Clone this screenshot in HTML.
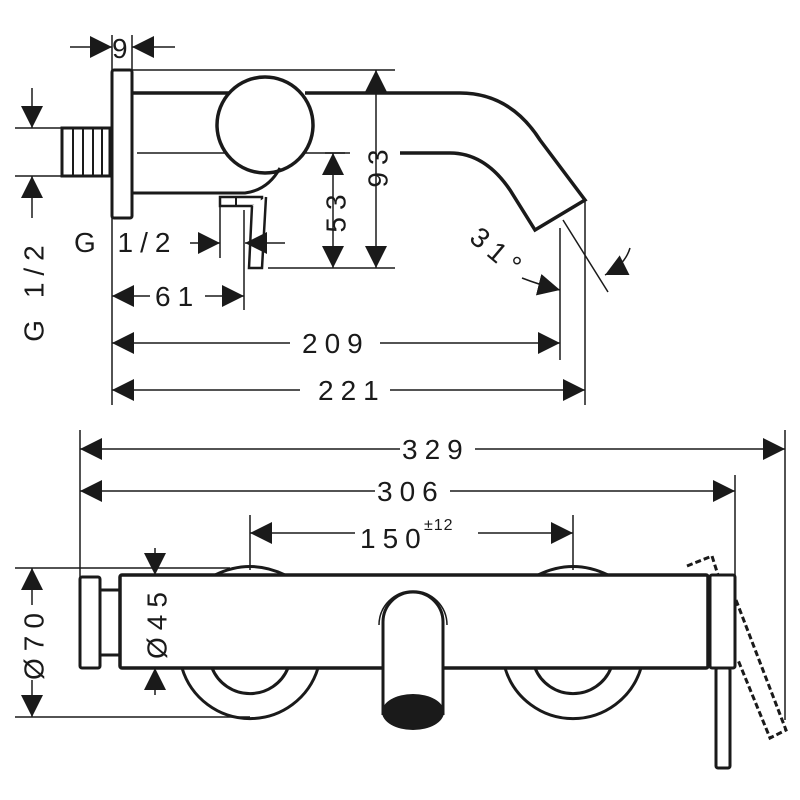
<!DOCTYPE html><html><head><style>body{margin:0;background:#fff}svg{display:block}text{font-family:"Liberation Sans",sans-serif;font-size:28px;letter-spacing:7px;fill:#1a1a1a}.r{dominant-baseline:central;text-anchor:middle}</style></head><body>
<svg width="800" height="800" viewBox="0 0 800 800" xmlns="http://www.w3.org/2000/svg">
<defs><marker id="a" viewBox="0 0 10 10" refX="10" refY="5" markerWidth="22" markerHeight="22" markerUnits="userSpaceOnUse" orient="auto"><path d="M0,0L10,5L0,10z" fill="#1a1a1a"/></marker></defs>
<g stroke="#1a1a1a" fill="none">
<!-- top view -->
<rect x="112" y="70" width="20" height="148" rx="2" stroke-width="3" fill="#fff"/>
<rect x="62" y="128" width="48" height="48" stroke-width="3"/>
<path d="M73 128V176M83 128V176M93 128V176M102 128V176" stroke-width="2"/>
<path d="M132 93H230M305 93H460Q510 93 540 140L585 200L535 230L510 190Q485 153 450 153H400" stroke-width="3.5"/>
<path d="M137 153H345" stroke-width="1.5"/>
<circle cx="265" cy="125" r="48" stroke-width="3.5" fill="#fff"/>
<path d="M132 193H245Q268 190 280 168" stroke-width="3"/>
<rect x="220" y="197" width="42" height="9" stroke-width="2.5"/>
<path d="M236 197V206" stroke-width="2"/>
<path d="M252 206L249 268H262L266 197" stroke-width="2.5" fill="#fff"/>
<path d="M132 70H395M268 268H395M325 153H350" stroke-width="1.5"/>
<path d="M376 200V70" stroke-width="1.5" marker-end="url(#a)"/><path d="M376 200V268" stroke-width="1.5" marker-end="url(#a)"/>
<path d="M333 235V153" stroke-width="1.5" marker-end="url(#a)"/><path d="M333 235V268" stroke-width="1.5" marker-end="url(#a)"/>
<path d="M32 88V128" stroke-width="1.5" marker-end="url(#a)"/><path d="M32 218V176" stroke-width="1.5" marker-end="url(#a)"/>
<path d="M15 128H62M15 176H62" stroke-width="1.5"/>
<path d="M190 243H220" stroke-width="1.5" marker-end="url(#a)"/><path d="M285 243H245" stroke-width="1.5" marker-end="url(#a)"/>
<path d="M220 205V258M244 210V310" stroke-width="1.5"/>
<path d="M70 47H112" stroke-width="1.5" marker-end="url(#a)"/><path d="M175 47H132" stroke-width="1.5" marker-end="url(#a)"/>
<path d="M112 35V70M132 35V70" stroke-width="1.5"/>
<path d="M150 296H112" stroke-width="1.5" marker-end="url(#a)"/><path d="M205 296H244" stroke-width="1.5" marker-end="url(#a)"/>
<path d="M290 343H112" stroke-width="1.5" marker-end="url(#a)"/><path d="M380 343H560" stroke-width="1.5" marker-end="url(#a)"/>
<path d="M300 390H112" stroke-width="1.5" marker-end="url(#a)"/><path d="M390 390H585" stroke-width="1.5" marker-end="url(#a)"/>
<path d="M112 218V405M560 228V360M585 200V405" stroke-width="1.5"/>
<path d="M563 220L608 292" stroke-width="1.5"/>
<path d="M630 248Q625 265 605 275" stroke-width="1.5" marker-end="url(#a)"/>
<path d="M522 278Q540 285 560 290" stroke-width="1.5" marker-end="url(#a)"/>
<!-- bottom view dims -->
<path d="M400 449H80" stroke-width="1.5" marker-end="url(#a)"/><path d="M475 449H785" stroke-width="1.5" marker-end="url(#a)"/>
<path d="M375 491H80" stroke-width="1.5" marker-end="url(#a)"/><path d="M450 491H735" stroke-width="1.5" marker-end="url(#a)"/>
<path d="M355 533H250" stroke-width="1.5" marker-end="url(#a)"/><path d="M478 533H573" stroke-width="1.5" marker-end="url(#a)"/>
<path d="M80 430V668M785 430V720M735 475V575M250 515V570M573 515V570" stroke-width="1.5"/>
<path d="M32 605V568" stroke-width="1.5" marker-end="url(#a)"/><path d="M32 680V717" stroke-width="1.5" marker-end="url(#a)"/>
<path d="M15 568H230M15 717H250" stroke-width="1.5"/>
<path d="M155 548V575" stroke-width="1.5" marker-end="url(#a)"/><path d="M155 695V668" stroke-width="1.5" marker-end="url(#a)"/>
<!-- bottom view body -->
<path d="M215 575Q250 558 285 575M538 575Q573 558 608 575" stroke-width="3"/>
<path d="M182 668A71 71 0 0 0 318 668M212 668A41 41 0 0 0 288 668" stroke-width="3"/>
<path d="M505 668A71 71 0 0 0 641 668M535 668A41 41 0 0 0 611 668" stroke-width="3"/>
<rect x="80" y="577" width="20" height="91" rx="2" stroke-width="3" fill="#fff"/>
<rect x="100" y="590" width="20" height="65" stroke-width="3" fill="#fff"/>
<rect x="120" y="575" width="588" height="93" rx="2" stroke-width="3.5" fill="#fff"/>
<rect x="710" y="575" width="25" height="93" rx="2" stroke-width="3" fill="#fff"/>
<path d="M383 715V622A30 30 0 0 1 443 622V715" stroke-width="3" fill="#fff"/>
<path d="M379 625A34 34 0 0 1 447 625" stroke-width="1.5"/>
<ellipse cx="413" cy="712" rx="31" ry="18" fill="#1a1a1a" stroke="none"/>
<rect x="716" y="668" width="14" height="100" rx="2" stroke-width="3" fill="#fff"/>
<path d="M687 566L712 556L718 575M736 600L786 730L770 738L738 660" stroke-width="3" stroke-dasharray="6 3"/>
</g>
<text x="112" y="58">9</text>
<text class="r" transform="translate(378 165) rotate(-90)">93</text>
<text class="r" transform="translate(336 210) rotate(-90)">53</text>
<text class="r" transform="translate(34 290) rotate(-90)">G 1/2</text>
<text x="74" y="252">G 1/2</text>
<text x="155" y="306">61</text>
<text x="302" y="353">209</text>
<text x="318" y="400">221</text>
<text transform="translate(468 240) rotate(40)">31°</text>
<text x="402" y="459">329</text>
<text x="377" y="501">306</text>
<text x="360" y="548">150</text>
<text x="424" y="530" style="font-size:16px;letter-spacing:1px">±12</text>
<text class="r" transform="translate(34 643) rotate(-90)">Ø70</text>
<text class="r" transform="translate(157 622) rotate(-90)">Ø45</text>
</svg></body></html>
